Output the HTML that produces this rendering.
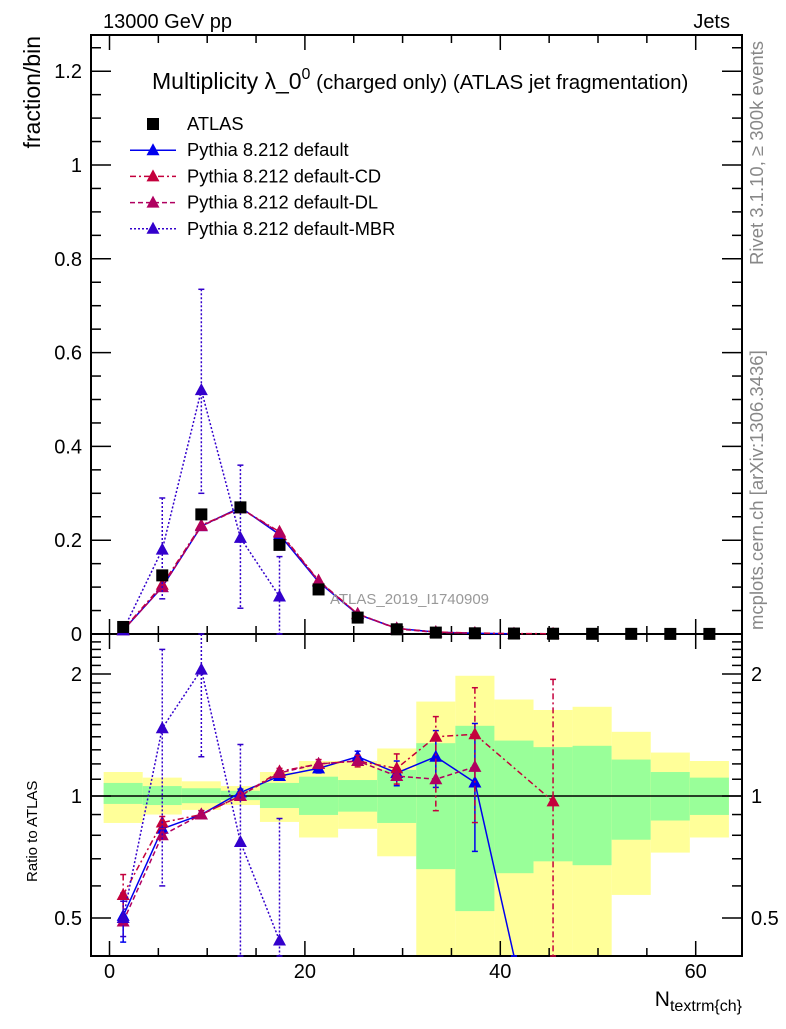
<!DOCTYPE html>
<html><head><meta charset="utf-8"><style>
body{margin:0;background:#fff}
svg text{font-family:"Liberation Sans",sans-serif}
</style></head><body>
<svg id="c" width="786" height="1024" xmlns="http://www.w3.org/2000/svg">
<g id="bands"></g>
<g id="axes"></g>
<g id="series"></g>
<text x="103" y="28" font-size="20">13000 GeV pp</text>
<text x="730" y="28" font-size="20" text-anchor="end">Jets</text>
<text x="152" y="89" font-size="23">Multiplicity λ_0<tspan dy="-10" font-size="16">0</tspan><tspan dy="10" font-size="20.5"> (charged only) (ATLAS jet fragmentation)</tspan></text>
<text x="330" y="604" font-size="15" fill="#999">ATLAS_2019_I1740909</text>
<text transform="translate(40,36) rotate(-90)" font-size="23" text-anchor="end">fraction/bin</text>
<text transform="translate(37,882) rotate(-90)" font-size="15">Ratio to ATLAS</text>
<text x="742" y="1006" font-size="21" text-anchor="end">N<tspan dy="5" font-size="16">textrm{ch}</tspan></text>
<text transform="translate(763,265) rotate(-90)" font-size="18.5" fill="#888">Rivet 3.1.10, ≥ 300k events</text>
<text transform="translate(763,630) rotate(-90)" font-size="18.5" fill="#888">mcplots.cern.ch [arXiv:1306.3436]</text>
<g id="legend"></g>
</svg>
<script>
const binEdges0=-0.6, binW=4;
const centers=[1.4,5.4,9.4,13.4,17.4,21.4,25.4,29.4,33.4,37.4,41.4,45.4,49.4,53.4,57.4,61.4];
const atlas=[0.015,0.125,0.255,0.27,0.19,0.095,0.035,0.01,0.003,0.0015,0.001,0.0006,0.0004,0.0003,0.0002,0.0002];
const defaultVals=[0.008,0.1,0.23,0.27,0.212,0.111,0.042,0.012,0.004,0.0016,0.0003];
const cdVals=[0.009,0.105,0.232,0.268,0.218,0.114,0.043,0.012,0.0042,0.0021,0.0008,0.0006];
const dlVals=[0.008,0.1,0.23,0.268,0.216,0.113,0.043,0.011,0.0033,0.0018];
const mbrVals=[0.008,0.18,0.52,0.205,0.08];
const mbrErrUp=[0,0.11,0.215,0.155,0.085];
const mbrErrDn=[0,0.105,0.22,0.15,0.08];
const ratioDefault=[0.506,0.83,0.9,1.02,1.12,1.17,1.25,1.14,1.25,1.08,0.3];
const ratioDefaultUp=[0.07,0.03,0.02,0.02,0.02,0.03,0.04,0.08,0.2,0.43,0];
const ratioDefaultDn=[0.07,0.03,0.02,0.02,0.02,0.03,0.04,0.08,0.2,0.35,0];
const ratioCD=[0.57,0.86,0.9,1.0,1.15,1.2,1.22,1.17,1.4,1.42,null,0.97];
const ratioCDUp=[0.07,0.03,0.02,0.02,0.02,0.03,0.04,0.1,0.17,0.43,0,0.97];
const ratioCDDn=[0.07,0.03,0.02,0.02,0.02,0.03,0.04,0.1,0.48,0.56,0,0.7];
const ratioDL=[0.49,0.8,0.9,1.0,1.14,1.2,1.22,1.12,1.1,1.18];
const ratioMBR=[0.5,1.47,2.05,0.77,0.44];
const ratioMBRUp=[0.05,0.83,0.6,0.57,0.44];
const ratioMBRDn=[0.05,0.87,0.8,0.6,0.4];
const bandYellowHi=[1.146,1.11,1.087,1.058,1.146,1.22,1.22,1.31,1.71,1.98,1.73,1.63,1.66,1.44,1.28,1.22];
const bandGreenHi=[1.077,1.058,1.045,1.03,1.077,1.116,1.095,1.16,1.35,1.49,1.37,1.32,1.33,1.23,1.146,1.11];
const bandGreenLo=[0.956,0.95,0.96,0.977,0.934,0.898,0.915,0.858,0.66,0.52,0.645,0.69,0.675,0.78,0.87,0.898];
const bandYellowLo=[0.858,0.9,0.924,0.95,0.863,0.79,0.83,0.71,0.3,0.3,0.3,0.3,0.3,0.57,0.725,0.79];
const mainTicks=[0,0.2,0.4,0.6,0.8,1,1.2];
const mainTickLabels=["0","0.2","0.4","0.6","0.8","1","1.2"];
const ratioTicks=[0.5,1,2];
const ratioTickLabels=["0.5","1","2"];
const xTicks=[0,20,40,60];
const xTickLabels=["0","20","40","60"];

const NS="http://www.w3.org/2000/svg";
const L=91,R=742,T=35,M=634,B=956;
const xs=v=>109.5+v*9.77;
const ys=v=>M-v*469;
const yrRaw=v=>796-122*Math.log2(v);
function mk(tag,at,parent){const e=document.createElementNS(NS,tag);for(const k in at)e.setAttribute(k,at[k]);(parent||document.getElementById('c')).appendChild(e);return e;}
const bands=document.getElementById('bands'),axes=document.getElementById('axes'),ser=document.getElementById('series'),leg=document.getElementById('legend');
const yr=v=>Math.max(M,Math.min(B,yrRaw(v)));

centers.forEach((c,i)=>{
  const x0=xs(binEdges0+i*binW), x1=xs(binEdges0+(i+1)*binW);
  let e=mk('rect',{x:x0,y:yr(bandYellowHi[i]),width:x1-x0,height:yr(bandYellowLo[i])-yr(bandYellowHi[i]),fill:'#ffff99'},bands);
  
  
  e=mk('rect',{x:x0,y:yr(bandGreenHi[i]),width:x1-x0,height:yr(bandGreenLo[i])-yr(bandGreenHi[i]),fill:'#99ff99'},bands);
  
  
});

[[T,M],[M,B]].forEach(([t,b],p)=>{
  const f=mk('rect',{x:L,y:t,width:R-L,height:b-t,fill:'none',stroke:'#000','stroke-width':2},axes);
  
  
  for(let v=0;v<=65;v+=5){const x=xs(v);if(x>R)break;const len=v%20==0?15:8;
    mk('line',{x1:x,x2:x,y1:b,y2:b-len,stroke:'#000','stroke-width':1.5},axes);
    mk('line',{x1:x,x2:x,y1:t,y2:t+len,stroke:'#000','stroke-width':1.5},axes);}
});
for(let v=0;v<=1.27;v+=0.05){const y=ys(v);const maj=Math.abs(v*5-Math.round(v*5))<1e-6;const len=maj?20:10;
  mk('line',{x1:L,x2:L+len,y1:y,y2:y,stroke:'#000','stroke-width':1.5},axes);
  mk('line',{x1:R,x2:R-len,y1:y,y2:y,stroke:'#000','stroke-width':1.5},axes);}
mainTicks.forEach((v,i)=>{const t=mk('text',{x:82,y:ys(v)+7,'font-size':20,'text-anchor':'end'},axes);t.textContent=mainTickLabels[i];
  
  });
const rminor=[0.4,0.5,0.6,0.7,0.8,0.9,1,1.1,1.2,1.3,1.4,1.5,1.6,1.7,1.8,1.9,2,2.1,2.2,2.3,2.4];
rminor.forEach(v=>{const y=yrRaw(v);if(y<M+1||y>B-1)return;const maj=ratioTicks.includes(v);const len=maj?20:10;
  mk('line',{x1:L,x2:L+len,y1:y,y2:y,stroke:'#000','stroke-width':1.5},axes);
  mk('line',{x1:R,x2:R-len,y1:y,y2:y,stroke:'#000','stroke-width':1.5},axes);});
ratioTicks.forEach((v,i)=>{let t=mk('text',{x:82,y:yrRaw(v)+7,'font-size':20,'text-anchor':'end'},axes);t.textContent=ratioTickLabels[i];
  
  
  t=mk('text',{x:751,y:yrRaw(v)+7,'font-size':20},axes);t.textContent=ratioTickLabels[i];
  
  });
xTicks.forEach((v,i)=>{const t=mk('text',{x:xs(v),y:978,'font-size':20,'text-anchor':'middle'},axes);t.textContent=xTickLabels[i];
  
  });
const one=mk('line',{x1:L,x2:R,y1:yrRaw(1),y2:yrRaw(1),stroke:'#000','stroke-width':1.5},axes);



function tri(x,y,col,g){return mk('path',{d:`M${x},${y-7}L${x+6.5},${y+5}L${x-6.5},${y+5}Z`,fill:col},g);}
function series(vals,yf,col,dash,name,up,dn){
  const g=mk('g',{},ser);
  
  
  const pts=[];vals.forEach((v,i)=>{if(v==null)return;pts.push([xs(centers[i]),yf(v),i]);});
  mk('polyline',{points:pts.map(p=>p[0]+','+p[1]).join(' '),fill:'none',stroke:col,'stroke-width':1.5,'stroke-dasharray':dash},g);
  pts.forEach(([x,y,i])=>{
    if(up){const v=vals[i];const y1=yf(v+up[i]),y2=yf(Math.max(v-dn[i],1e-4));
      mk('line',{x1:x,x2:x,y1:y1,y2:y2,stroke:col,'stroke-width':1.5,'stroke-dasharray':dash},g);
      mk('line',{x1:x-3,x2:x+3,y1:y1,y2:y1,stroke:col,'stroke-width':1.5},g);mk('line',{x1:x-3,x2:x+3,y1:y2,y2:y2,stroke:col,'stroke-width':1.5},g);}
    if(y>=T&&y<=B-2){const m=tri(x,y,col,g);
      
      }
  });
}
const cDef='#0000ee',cCD='#c4003c',cDL='#b00060',cMBR='#3300cc';
const clipMain=v=>ys(v), clipR=v=>Math.max(M,Math.min(B,yrRaw(v)));
series(defaultVals,clipMain,cDef,'none','main-default');
series(cdVals,clipMain,cCD,'6,3,2,3','main-cd');
series(dlVals,clipMain,cDL,'5,3','main-dl');
series(mbrVals,clipMain,cMBR,'2,2','main-mbr',mbrErrUp,mbrErrDn);
atlas.forEach((v,i)=>{const r=mk('rect',{x:xs(centers[i])-6,y:ys(v)-6,width:12,height:12,fill:'#000'},ser);
  
  });
series(ratioDefault,clipR,cDef,'none','ratio-default',ratioDefaultUp,ratioDefaultDn);
series(ratioCD,clipR,cCD,'6,3,2,3','ratio-cd',ratioCDUp,ratioCDDn);
series(ratioDL,clipR,cDL,'5,3','ratio-dl');
series(ratioMBR,clipR,cMBR,'2,2','ratio-mbr',ratioMBRUp,ratioMBRDn);

let sq=mk('rect',{x:147,y:118,width:12,height:12,fill:'#000'},leg);


const legItems=[['ATLAS',null,null],['Pythia 8.212 default',cDef,'none'],['Pythia 8.212 default-CD',cCD,'6,3,2,3'],['Pythia 8.212 default-DL',cDL,'5,3'],['Pythia 8.212 default-MBR',cMBR,'2,2']];
legItems.forEach(([lab,col,dash],i)=>{const y=124+i*26.2;
  if(col){mk('line',{x1:130,x2:176,y1:y,y2:y,stroke:col,'stroke-width':1.5,'stroke-dasharray':dash},leg);tri(153,y,col,leg);}
  const t=mk('text',{x:187,y:y+6,'font-size':18.3},leg);t.textContent=lab;
  
  });
</script>
</body></html>
